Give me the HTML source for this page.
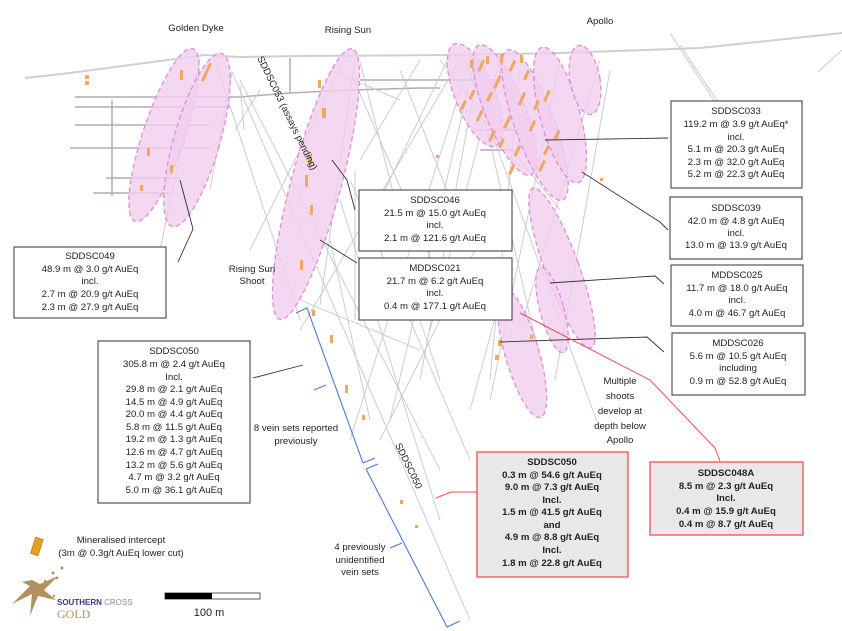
<!DOCTYPE html>
<html><head><meta charset="utf-8"><style>
html,body{margin:0;padding:0;background:#fff;}
svg{display:block;font-family:"Liberation Sans",sans-serif;}
.t{font-size:9.6px;fill:#222;text-anchor:middle;}
.b{font-size:9.6px;fill:#222;text-anchor:middle;font-weight:bold;}
.el{fill:#f1cdee;fill-opacity:0.8;stroke:#dd8fd8;stroke-width:1.3;stroke-dasharray:5,3;}
.g{stroke:#c8c8c8;stroke-width:0.9;fill:none;}
.u{stroke:#b9a9b1;stroke-width:1.5;fill:none;}
.k{stroke:#333;stroke-width:0.9;fill:none;}
.m{fill:#eea860;}
</style></head><body>
<svg width="842" height="631" viewBox="0 0 842 631">
<g class="u">
<polyline points="112,100 112,196"/>
<polyline points="75,107 230,107"/><polyline points="75,125 210,125"/><polyline points="70,148 210,148"/>
<polyline points="106,178 180,178"/><polyline points="93,193 170,193"/>
<polyline points="75,97 175,97 240,97 290,93 350,90 420,88 440,88"/>
<polyline points="290,58 290,92"/><polyline points="360,80 500,80"/><polyline points="500,58 500,82"/>
<polyline points="475,130 520,130"/><polyline points="480,150 520,150"/>
</g>
<polyline points="25,78 70,73 205,55 240,57 300,56 450,55 560,53 700,48 842,33" stroke="#cfcfcf" stroke-width="2" fill="none"/>
<g class="g">
<line x1="232" y1="72" x2="470" y2="620"/>
<line x1="240" y1="80" x2="440" y2="470"/>
<line x1="232" y1="72" x2="210" y2="190"/>
<line x1="240" y1="85" x2="244" y2="130"/>
<line x1="260" y1="90" x2="235" y2="130"/>
<line x1="200" y1="58" x2="160" y2="250"/>
<line x1="215" y1="60" x2="300" y2="320"/>
<line x1="345" y1="60" x2="250" y2="250"/>
<line x1="355" y1="60" x2="320" y2="305"/>
<line x1="352" y1="75" x2="440" y2="280"/>
<line x1="360" y1="62" x2="395" y2="200"/>
<line x1="330" y1="70" x2="400" y2="100"/>
<line x1="450" y1="55" x2="380" y2="200"/>
<line x1="460" y1="60" x2="300" y2="330"/>
<line x1="470" y1="60" x2="350" y2="440"/>
<line x1="475" y1="60" x2="390" y2="420"/>
<line x1="480" y1="60" x2="420" y2="380"/>
<line x1="470" y1="55" x2="540" y2="360"/>
<line x1="465" y1="60" x2="600" y2="430"/>
<line x1="440" y1="60" x2="560" y2="210"/>
<line x1="400" y1="70" x2="470" y2="250"/>
<line x1="420" y1="60" x2="360" y2="160"/>
<line x1="500" y1="60" x2="430" y2="330"/>
<line x1="520" y1="70" x2="490" y2="380"/>
<line x1="560" y1="60" x2="490" y2="400"/>
<line x1="600" y1="60" x2="520" y2="330"/>
<line x1="610" y1="70" x2="555" y2="380"/>
<line x1="350" y1="180" x2="470" y2="460"/>
<line x1="340" y1="200" x2="440" y2="520"/>
<line x1="300" y1="300" x2="420" y2="350"/>
<line x1="475" y1="250" x2="380" y2="440"/>
<line x1="500" y1="300" x2="470" y2="410"/>
<line x1="420" y1="320" x2="440" y2="380"/>
<line x1="670" y1="33" x2="720" y2="110"/>
<line x1="680" y1="45" x2="770" y2="180"/>
<line x1="842" y1="50" x2="818" y2="72"/>
<line x1="330" y1="240" x2="370" y2="420"/>
<line x1="355" y1="170" x2="355" y2="320"/>
</g>
<ellipse class="el" cx="164" cy="135" rx="21" ry="91" transform="rotate(18.5 164 135)"/>
<ellipse class="el" cx="197" cy="140" rx="23" ry="90" transform="rotate(16 197 140)"/>
<ellipse class="el" cx="316" cy="184" rx="25" ry="140" transform="rotate(15 316 184)"/>
<ellipse class="el" cx="475" cy="95" rx="20" ry="55" transform="rotate(-22 475 95)"/>
<ellipse class="el" cx="505" cy="110" rx="20" ry="70" transform="rotate(-22 505 110)"/>
<ellipse class="el" cx="535" cy="125" rx="20" ry="80" transform="rotate(-20 535 125)"/>
<ellipse class="el" cx="560" cy="115" rx="20" ry="70" transform="rotate(-15 560 115)"/>
<ellipse class="el" cx="585" cy="80" rx="15" ry="35" transform="rotate(-10 585 80)"/>
<ellipse class="el" cx="562" cy="268" rx="17" ry="85" transform="rotate(-20 562 268)"/>
<ellipse class="el" cx="552" cy="310" rx="12" ry="44" transform="rotate(-15 552 310)"/>
<ellipse class="el" cx="522" cy="353" rx="17" ry="67" transform="rotate(-16 522 353)"/>
<g class="m">
<rect x="480" y="60" width="3" height="12" transform="rotate(25 482 65)"/>
<rect x="495" y="75" width="3" height="14" transform="rotate(25 497 84)"/>
<rect x="510" y="60" width="3" height="12" transform="rotate(25 512 68)"/>
<rect x="520" y="92" width="3" height="14" transform="rotate(25 522 100)"/>
<rect x="470" y="90" width="3" height="10" transform="rotate(25 472 96)"/>
<rect x="505" y="115" width="3" height="14" transform="rotate(25 507 124)"/>
<rect x="530" y="120" width="3" height="12" transform="rotate(25 532 128)"/>
<rect x="490" y="130" width="3" height="12" transform="rotate(25 492 137)"/>
<rect x="545" y="90" width="3" height="12" transform="rotate(25 547 97)"/>
<rect x="515" y="145" width="3" height="12" transform="rotate(25 517 153)"/>
<rect x="540" y="160" width="3" height="12" transform="rotate(25 542 167)"/>
<rect x="555" y="130" width="3" height="10" transform="rotate(25 557 136)"/>
<rect x="462" y="100" width="3" height="10" transform="rotate(25 463 105)"/>
<rect x="478" y="110" width="3" height="12" transform="rotate(25 480 116)"/>
<rect x="488" y="92" width="3" height="10" transform="rotate(25 490 97)"/>
<rect x="500" y="138" width="3" height="10" transform="rotate(25 501 143)"/>
<rect x="525" y="70" width="3" height="10" transform="rotate(25 526 75)"/>
<rect x="535" y="100" width="3" height="10" transform="rotate(25 536 105)"/>
<rect x="510" y="165" width="3" height="10" transform="rotate(25 511 170)"/>
<rect x="545" y="145" width="3" height="10" transform="rotate(25 546 150)"/>
<rect x="470" y="60" width="3" height="8"/><rect x="486" y="56" width="3" height="8"/>
<rect x="500" y="54" width="3" height="8"/><rect x="520" y="55" width="3" height="8"/>
<rect x="205" y="62" width="3" height="20" transform="rotate(25 206 72)"/>
<rect x="180" y="70" width="3" height="10"/><rect x="147" y="148" width="3" height="8"/>
<rect x="170" y="165" width="3" height="8"/><rect x="140" y="185" width="3" height="6"/>
<rect x="85" y="75" width="4" height="4"/><rect x="85" y="81" width="4" height="4"/>
<rect x="322" y="108" width="4" height="10"/><rect x="308" y="155" width="4" height="10"/>
<rect x="305" y="175" width="3" height="12"/><rect x="310" y="205" width="3" height="10"/>
<rect x="300" y="260" width="3" height="10"/><rect x="318" y="80" width="3" height="8"/>
<rect x="312" y="310" width="3" height="6"/><rect x="330" y="335" width="3" height="8"/>
<rect x="345" y="385" width="3" height="8"/><rect x="362" y="415" width="3" height="5"/>
<rect x="400" y="500" width="3" height="4"/><rect x="415" y="525" width="3" height="3"/>
<rect x="498" y="340" width="4" height="6"/><rect x="495" y="355" width="4" height="5"/>
<rect x="530" y="335" width="3" height="4"/><rect x="495" y="305" width="3" height="4"/>
<rect x="436" y="155" width="3" height="3"/><rect x="600" y="178" width="3" height="3"/>
</g>
<g stroke="#4a7ad6" stroke-width="1.1" fill="none">
<polyline points="296,313 307,308 363,463"/>
<line x1="314" y1="390" x2="326" y2="385"/>
<line x1="363" y1="463" x2="375" y2="458"/>
<line x1="366" y1="469" x2="378" y2="464"/>
<polyline points="366,469 447,627 460,621"/>
<line x1="390" y1="548" x2="402" y2="543"/>
</g>
<g class="k">
<polyline points="178,262 193,229 180,180"/>
<polyline points="332,160 347,180 355,210"/>
<polyline points="320,240 357,263"/>
<polyline points="545,140 668,138"/>
<polyline points="582,172 660,222 668,230"/>
<polyline points="550,283 655,276 664,284"/>
<polyline points="500,342 647,337 664,352"/>
<polyline points="253,378 303,365"/>
</g>
<g stroke="#f05050" stroke-width="1" fill="none">
<polyline points="520,313 650,380 715,448 720,461"/>
<polyline points="436,498 451,492 477,492"/>
</g>
<text class="t" x="196" y="31" font-size="11">Golden Dyke</text>
<text class="t" x="348" y="33">Rising Sun</text>
<text class="t" x="600" y="24">Apollo</text>
<text class="t" x="0" y="0" transform="translate(257,58) rotate(64)" style="text-anchor:start">SDDSC053 (assays pending)</text>
<text class="t" x="252" y="272">Rising Sun</text><text class="t" x="252" y="284">Shoot</text>
<text class="t" x="0" y="0" transform="translate(395,445) rotate(64)" style="text-anchor:start">SDDSC050</text>
<text class="t" x="296" y="431">8 vein sets reported</text><text class="t" x="296" y="444">previously</text>
<text class="t" x="360" y="550">4 previously</text><text class="t" x="360" y="563">unidentified</text><text class="t" x="360" y="575">vein sets</text>
<text class="t" x="620" y="384" font-size="10.5">Multiple</text><text class="t" x="620" y="399" font-size="10.5">shoots</text><text class="t" x="620" y="414" font-size="10.5">develop at</text><text class="t" x="620" y="429" font-size="10.5">depth below</text><text class="t" x="620" y="443" font-size="10.5">Apollo</text>
<g fill="#fff" stroke="#333" stroke-width="1">
<rect x="14" y="247" width="152" height="71"/>
<rect x="359" y="190" width="153" height="61"/>
<rect x="359" y="258" width="153" height="62"/>
<rect x="671" y="101" width="131" height="87"/>
<rect x="670" y="197" width="132" height="62"/>
<rect x="671" y="265" width="132" height="61"/>
<rect x="672" y="333" width="133" height="62"/>
<rect x="98" y="341" width="152" height="162"/>
</g>
<g fill="#e8e8e8" stroke="#f05050" stroke-width="1.3">
<rect x="477" y="452" width="151" height="125"/>
<rect x="650" y="462" width="153" height="73"/>
</g>
<g class="t">
<text x="90" y="259">SDDSC049</text><text x="90" y="272">48.9 m @ 3.0 g/t AuEq</text><text x="90" y="284">incl.</text><text x="90" y="297">2.7 m @ 20.9 g/t AuEq</text><text x="90" y="310">2.3 m @ 27.9 g/t AuEq</text>
<text x="435" y="203">SDDSC046</text><text x="435" y="216">21.5 m @ 15.0 g/t AuEq</text><text x="435" y="228">incl.</text><text x="435" y="241">2.1 m @ 121.6 g/t AuEq</text>
<text x="435" y="271">MDDSC021</text><text x="435" y="284">21.7 m @ 6.2 g/t AuEq</text><text x="435" y="296">incl.</text><text x="435" y="309">0.4 m @ 177.1 g/t AuEq</text>
<text x="736" y="114">SDDSC033</text><text x="736" y="127">119.2 m @ 3.9 g/t AuEq*</text><text x="736" y="140">incl.</text><text x="736" y="152">5.1 m @ 20.3 g/t AuEq</text><text x="736" y="165">2.3 m @ 32.0 g/t AuEq</text><text x="736" y="177">5.2 m @ 22.3 g/t AuEq</text>
<text x="736" y="211">SDDSC039</text><text x="736" y="224">42.0 m @ 4.8 g/t AuEq</text><text x="736" y="236">incl.</text><text x="736" y="248">13.0 m @ 13.9 g/t AuEq</text>
<text x="737" y="278">MDDSC025</text><text x="737" y="291">11.7 m @ 18.0 g/t AuEq</text><text x="737" y="303">incl.</text><text x="737" y="316">4.0 m @ 46.7 g/t AuEq</text>
<text x="738" y="346">MDDSC026</text><text x="738" y="359">5.6 m @ 10.5 g/t AuEq</text><text x="738" y="371">including</text><text x="738" y="384">0.9 m @ 52.8 g/t AuEq</text>
<text x="174" y="354">SDDSC050</text><text x="174" y="367">305.8 m @ 2.4 g/t AuEq</text><text x="174" y="380">Incl.</text><text x="174" y="392">29.8 m @ 2.1 g/t AuEq</text><text x="174" y="405">14.5 m @ 4.9 g/t AuEq</text><text x="174" y="417">20.0 m @ 4.4 g/t AuEq</text><text x="174" y="430">5.8 m @ 11.5 g/t AuEq</text><text x="174" y="442">19.2 m @ 1.3 g/t AuEq</text><text x="174" y="455">12.6 m @ 4.7 g/t AuEq</text><text x="174" y="468">13.2 m @ 5.6 g/t AuEq</text><text x="174" y="480">4.7 m @ 3.2 g/t AuEq</text><text x="174" y="493">5.0 m @ 36.1 g/t AuEq</text>
<text x="121" y="543">Mineralised intercept</text><text x="121" y="556">(3m @ 0.3g/t AuEq lower cut)</text>
<text x="209" y="616" font-size="11">100 m</text>
</g>
<g class="b">
<text x="552" y="465">SDDSC050</text><text x="552" y="478">0.3 m @ 54.6 g/t AuEq</text><text x="552" y="490">9.0 m @ 7.3 g/t AuEq</text><text x="552" y="503">Incl.</text><text x="552" y="515">1.5 m @ 41.5 g/t AuEq</text><text x="552" y="528">and</text><text x="552" y="540">4.9 m @ 8.8 g/t AuEq</text><text x="552" y="553">Incl.</text><text x="552" y="566">1.8 m @ 22.8 g/t AuEq</text>
<text x="726" y="476">SDDSC048A</text><text x="726" y="489">8.5 m @ 2.3 g/t AuEq</text><text x="726" y="501">Incl.</text><text x="726" y="514">0.4 m @ 15.9 g/t AuEq</text><text x="726" y="527">0.4 m @ 8.7 g/t AuEq</text>
</g>
<rect x="33" y="538" width="8" height="17" fill="#e6a020" stroke="#b07010" stroke-width="0.6" transform="rotate(18 37 546)"/>
<rect x="165" y="593" width="95" height="6" fill="#fff" stroke="#333" stroke-width="0.8"/>
<rect x="165" y="593" width="47" height="6" fill="#000"/>
<polygon points="32,580 22,582 30,586 12,604 32,594 30,616 38,596 56,600 44,590 58,576 40,584" fill="#b39060"/>
<g fill="#b39060"><circle cx="53" cy="573" r="1.5"/><circle cx="62" cy="568" r="1.5"/><circle cx="57" cy="578" r="1.3"/><circle cx="45" cy="581" r="1.2"/><circle cx="54" cy="596" r="1.2"/></g>
<text x="57" y="605" font-size="8" font-weight="bold" fill="#3a3a7a">SOUTHERN <tspan fill="#8a8ab0" font-weight="normal">CROSS</tspan></text>
<text x="57" y="618" font-size="12" fill="#b39060" font-family="Liberation Serif,serif">GOLD</text>
</svg>
</body></html>
